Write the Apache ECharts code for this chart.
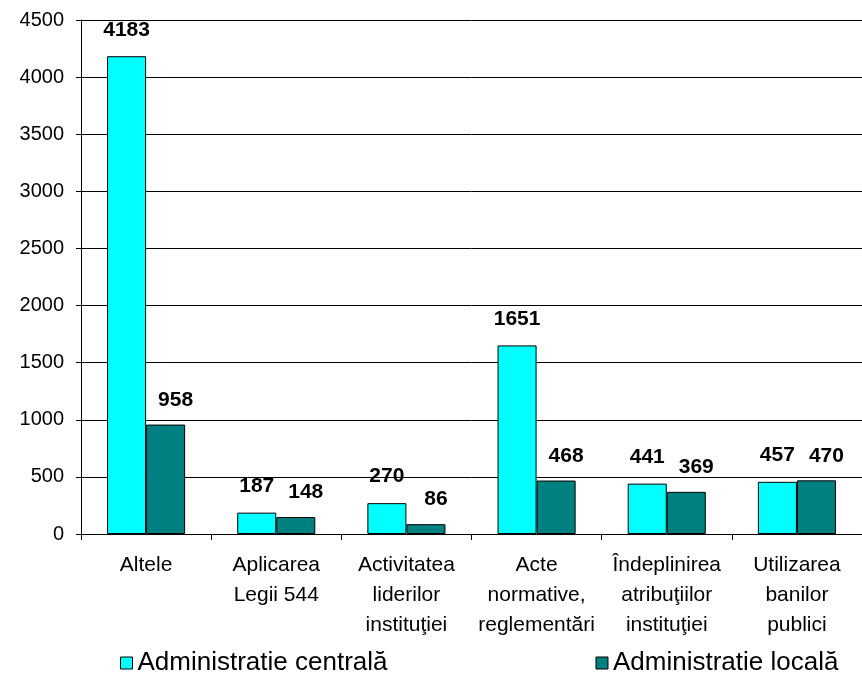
<!DOCTYPE html>
<html>
<head>
<meta charset="utf-8">
<script src="https://cdn.jsdelivr.net/npm/echarts@6/dist/echarts.min.js"></script>
<style>
html,body{margin:0;padding:0;background:#fff;}
#chart{width:862px;height:677px;}
</style>
</head>
<body>
<div id="chart"></div>
<script>
const categories = ['Altele', 'Aplicarea\nLegii 544', 'Activitatea\nliderilor\ninstituţiei', 'Acte\nnormative,\nreglementări', 'Îndeplinirea\natribuţiilor\ninstituţiei', 'Utilizarea\nbanilor\npublici'];
const seriesNames = ['Administratie centrală', 'Administratie locală'];
const centrala = [4183, 187, 270, 1651, 441, 457];
const locala = [958, 148, 86, 468, 369, 470];
const yTicks = { min: 0, max: 4500, interval: 500 };

const FONT = "'Liberation Sans', Arial, sans-serif";
const chart = echarts.init(document.getElementById('chart'), null, { renderer: 'canvas' });
chart.setOption({
  animation: false,
  backgroundColor: '#ffffff',
  textStyle: { fontFamily: FONT, color: '#000' },
  grid: { left: 81, right: -5, top: 20, bottom: 143, containLabel: false },
  legend: {
    data: seriesNames,
    left: 120,
    top: 650,
    padding: 0,
    itemGap: 208,
    itemWidth: 12,
    itemHeight: 12,
    icon: 'rect',
    itemStyle: { borderColor: '#000', borderWidth: 1 },
    textStyle: { fontFamily: FONT, fontSize: 26, color: '#000', padding: [0, 0, 0, 0] }
  },
  xAxis: {
    type: 'category',
    data: categories,
    axisLine: { show: true, lineStyle: { color: '#000', width: 1 } },
    axisTick: { show: true, alignWithLabel: false, length: 6, lineStyle: { color: '#000' } },
    axisLabel: { color: '#000', fontFamily: FONT, fontSize: 21, lineHeight: 30, margin: 16, interval: 0 },
    splitLine: { show: false }
  },
  yAxis: {
    type: 'value',
    min: yTicks.min,
    max: yTicks.max,
    interval: yTicks.interval,
    axisLine: { show: true, lineStyle: { color: '#000', width: 1 } },
    axisTick: { show: true, length: 5, lineStyle: { color: '#000' } },
    axisLabel: { color: '#000', fontFamily: FONT, fontSize: 20, margin: 17, formatter: function (v) { return String(v); } },
    splitLine: { show: true, lineStyle: { color: '#000', width: 1 } }
  },
  series: [
    {
      name: seriesNames[0],
      type: 'bar',
      data: centrala,
      barGap: '0%',
      barCategoryGap: '40%',
      itemStyle: { color: '#00FFFF', borderColor: '#000', borderWidth: 1 },
      label: { show: true, position: 'top', distance: 16, offset: [0, 0], color: '#000', fontFamily: FONT, fontWeight: 'bold', fontSize: 21 }
    },
    {
      name: seriesNames[1],
      type: 'bar',
      data: locala,
      barGap: '0%',
      barCategoryGap: '40%',
      itemStyle: { color: '#008080', borderColor: '#000', borderWidth: 1 },
      label: { show: true, position: 'top', distance: 14, offset: [10, 0], color: '#000', fontFamily: FONT, fontWeight: 'bold', fontSize: 21 }
    }
  ]
});
</script>
</body>
</html>
